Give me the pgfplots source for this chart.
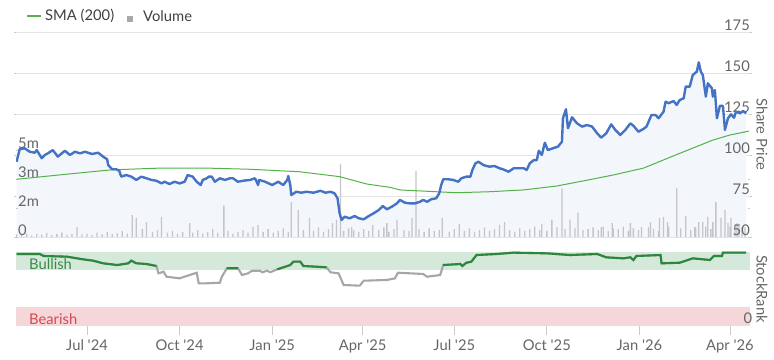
\documentclass[border=0pt]{standalone}
\usepackage{pgfplots}
\usepackage{pgfplotstable}
\pgfplotsset{compat=1.18}
\usepackage{fontspec}
\setmainfont{Lato}
\definecolor{priceblue}{RGB}{68,114,196}
\definecolor{smagreen}{RGB}{84,178,74}
\definecolor{rankgreen}{RGB}{42,136,60}
\definecolor{rankgrey}{RGB}{166,166,166}
\definecolor{bullband}{RGB}{213,233,218}
\definecolor{bearband}{RGB}{245,215,218}
\definecolor{bulltext}{RGB}{58,138,74}
\definecolor{beartext}{RGB}{214,72,80}
\definecolor{volc}{RGB}{196,196,202}
\definecolor{fillc}{RGB}{243,246,251}
\definecolor{gridc}{RGB}{228,228,228}
\definecolor{labc}{RGB}{102,102,102}
\definecolor{tickc}{RGB}{200,200,206}
\newcommand{\lf}{\fontsize{14.8}{17}\selectfont}

\pgfplotstableread{
day price
-70 95.9
-67 103.5
-62 104.1
-57 102
-52 101.4
-50 103
-45 98
-42 100
-39 101
-34 103
-29 99
-22 102.6
-17 100
-12 102
-7 101
-2 102
5 100.6
11 101.4
16 99
20 97.4
21 93.9
25 91.3
29 91.3
32 90.4
34 86.8
39 87.8
44 86.8
49 84.8
54 86.8
59 85.8
64 84.8
69 84.3
74 82.7
77 83.7
82 82.3
87 83.7
92 82.7
97 83.7
100 87.8
105 86.8
109 83.7
113 81.7
115 84.8
119 85.8
121 86.8
124 86.8
127 83.7
132 85.8
137 84.8
142 85.8
145 85.8
150 83.7
155 84.3
162 84.8
167 85.8
170 81.7
171 84.8
177 83.7
184 81.7
190 83.7
195 81.7
199 84.8
200 87.2
202 81.7
203 75.6
208 77.6
213 77
218 77.6
225 77
232 78.2
237 77
242 77.6
246 76.6
249 73.6
251 64.5
253 60.4
256 62.4
261 61.4
266 62.8
270 61.4
275 60.8
280 62.8
285 64.5
290 66.5
294 68.9
298 66.9
303 68.5
308 70.5
311 72.6
316 70.9
321 70.5
326 70.5
331 71.5
334 72.6
338 71.5
342 73
347 73.6
350 76.6
352 81.7
354 85.2
359 85.2
364 84.8
369 83.7
372 85.8
377 86.8
381 86.8
383 90.9
386 94.9
389 95.9
394 93.9
397 93.3
400 92.9
405 93.3
410 91.9
415 90.9
419 89.8
424 91.9
429 91.9
434 91.9
437 90.9
440 94.9
444 96.9
447 96.9
449 102.6
452 100
455 107.5
458 103
463 104.1
468 105.1
472 108.1
473 122.4
476 127.9
478 116.3
482 123
487 119.3
492 117.3
497 118.3
502 117.3
507 113.2
511 110.6
516 113.2
521 118.7
525 115.3
530 112.2
535 115.3
540 119.3
543 117.9
548 114.2
553 115.9
556 117.3
561 124.4
565 124.4
568 122.4
573 126.4
575 132.5
578 131.6
583 132.9
586 130.5
589 133.5
593 134.6
595 141.7
599 141.7
602 148.8
606 150.8
608 156.5
610 150.8
612 148.8
615 135.6
617 143.7
621 140.7
622 135.6
624 139.6
626 122.4
629 130
632 130
634 115.3
637 122.4
640 124.8
643 122.7
645 126.4
649 125.4
652 126.8
655 125.4
}\pricetab

\pgfplotstableread{
day sma
-70 85.2
-25 88
23 90.9
72 92
120 92
162 91.3
211 89.8
251 86.8
278 82.3
301 80.3
311 78.7
334 78
367 77
400 77.6
434 78.7
467 81.1
500 85
523 87.8
553 92
589 101
622 109.1
639 112.2
658 114.6
}\smatab

\pgfplotstableread{
day vol
-70 0.15
-65 0.12
-60 0.20
-55 0.10
-50 0.18
-45 0.14
-40 0.22
-35 0.12
-30 0.16
-25 0.25
-20 0.12
-15 0.18
-10 0.57
-5 0.15
0 0.20
5 0.12
10 0.25
15 0.15
20 0.30
25 0.18
30 0.22
35 0.35
40 0.20
45 1.26
49 1.10
55 0.45
59 0.86
65 0.30
70 0.40
74 1.15
80 0.25
85 0.35
90 0.20
95 0.30
102 0.80
105 0.25
110 0.40
115 0.20
120 0.30
125 0.45
130 0.25
136 1.80
140 0.35
145 0.20
150 0.30
155 0.40
160 0.25
165 0.60
170 0.70
175 0.30
180 0.45
185 0.25
190 0.35
195 0.50
200 0.30
203 2.00
210 1.55
215 0.40
221 1.10
225 0.35
230 0.55
235 0.30
240 0.45
244 0.80
248 1.00
252 4.20
255 0.35
260 0.50
263 0.57
265 0.40
270 0.30
275 0.45
280 0.35
284 0.70
290 0.40
295 0.55
298 0.80
300 0.30
305 0.45
308 1.00
315 0.40
320 0.35
323 1.10
327 3.80
330 0.45
335 0.30
340 0.50
345 0.35
350 0.40
353 1.10
360 0.30
365 0.45
370 0.75
375 0.35
380 0.50
385 0.30
390 0.40
395 0.55
400 0.35
405 0.45
410 0.70
415 0.85
420 0.40
425 0.30
430 0.50
435 0.35
440 0.45
445 0.60
450 0.40
452 0.75
457 0.35
462 1.00
467 0.55
472 2.80
475 0.45
480 1.00
485 0.50
488 1.40
493 0.40
498 0.45
503 0.55
508 0.40
511 0.57
513 0.60
518 0.35
522 0.80
523 0.50
528 0.45
533 0.60
538 0.35
540 0.80
543 0.50
548 0.40
551 0.57
558 0.55
560 0.86
563 0.45
568 0.35
569 1.10
573 1.15
577 0.86
578 0.60
586 2.80
590 0.50
595 1.20
600 0.40
604 0.57
605 0.55
608 0.86
612 0.86
615 0.60
617 1.15
620 0.45
622 0.86
625 2.00
630 1.10
634 1.55
637 0.80
639 0.60
640 1.10
644 0.45
646 0.80
648 0.70
651 0.57
654 0.55
}\voltab

\pgfplotstableread{
day rank
-70 97.3
-47 97.3
-43 94.6
-20 93.7
-4 90.1
6 88.3
16 84.7
30 82.4
41 84.7
44 88.3
49 84.7
59 83.8
69 81.1
71 71.2
76 73.4
79 66.6
92 64.4
102 68.9
109 72
111 57.7
119 57.7
132 58.5
134 66.6
139 78
150 78
154 68.9
160 71.2
164 74.7
172 74.7
174 72.6
179 74.7
182 72.6
189 76.6
197 80.1
202 82.4
205 86.9
212 86.9
215 81.1
228 80.1
238 79.3
242 72.6
250 71.2
255 55.4
271 54.5
275 61.2
298 62.2
306 64.4
309 72
334 70.3
338 66.6
351 68.9
354 82.4
371 83.8
373 81.1
377 85.5
382 86.9
387 95.9
407 97.3
424 99.1
457 98.2
480 95.9
507 97.3
516 92.8
533 91.4
540 92.8
543 89.2
546 94.6
570 95.9
571 84.7
589 85.5
602 91.4
619 89.2
623 94.6
631 94.6
632 99.1
655 99.1
}\ranktab

\pgfplotsset{
  base/.style={
    scale only axis, anchor=south west,
    xmin=-70.6, xmax=658.9,
    axis line style={draw=none},
    xtick=\empty,
    /pgf/number format/assume math mode=true,
    ticklabel style={font=\lf, text=labc},
  },
}

\begin{document}
\begin{tikzpicture}
\useasboundingbox (0bp,0bp) rectangle (774bp,360bp);

% price panel: grid and fill
\begin{axis}[base, at={(16bp,123bp)}, width=734bp, height=205bp,
  ymin=50, ymax=175,
  ytick={50,75,100,125,150,175},
  yticklabels={},
  ymajorgrids, grid style={draw=gridc, line width=0.9bp},
  ytick style={draw=none},
]
\addplot[fill=fillc, draw=none] table[x=day,y=price] {\pricetab} \closedcycle;
\end{axis}

% volume
\begin{axis}[base, at={(16bp,123bp)}, width=734bp, height=205bp,
  ymin=0, ymax=11.78,
  ytick={0,1.6667,3.3333,5},
  yticklabels={0,2m,3m,5m},
  yticklabel pos=left,
  ytick style={draw=tickc, line width=0.8bp}, major tick length=2bp, tick align=inside,
  yticklabel style={anchor=south west, inner sep=1bp, xshift=1bp},
]
\addplot[ybar, bar width=1.3bp, bar shift=0pt, fill=volc, draw=none] table[x=day,y=vol] {\voltab};
\end{axis}

% lines and right labels
\begin{axis}[base, at={(16bp,123bp)}, width=734bp, height=205bp,
  ymin=50, ymax=175,
  ytick={50,75,100,125,150,175},
  yticklabels={50,75,100,125,150,175},
  yticklabel pos=right,
  ytick style={draw=tickc, line width=0.8bp}, major tick length=2bp, tick align=outside,
  yticklabel style={anchor=south east, inner sep=1bp, xshift=-1bp},
]
\addplot[smagreen, line width=1bp] table[x=day,y=sma] {\smatab};
\addplot[priceblue, line width=2.4bp, line join=round] table[x=day,y=price] {\pricetab};
\end{axis}

% StockRank panel
\begin{axis}[base, at={(16bp,34bp)}, width=734bp, height=74bp,
  ymin=0, ymax=100, axis on top,
  xtick={0,92,184,274,365,457,549,639},
  xticklabels={Jul \textquotesingle24,Oct \textquotesingle24,Jan \textquotesingle25,Apr \textquotesingle25,Jul \textquotesingle25,Oct \textquotesingle25,Jan \textquotesingle26,Apr \textquotesingle26},
  xtick pos=bottom,
  xtick style={draw=tickc, line width=0.8bp, /pgfplots/major tick length=9bp},
  xticklabel style={yshift=-6bp},
  tick align=outside,
  ytick={0}, yticklabels={0}, yticklabel pos=right,
  ytick style={draw=none},
  yticklabel style={anchor=south east, inner sep=1bp, xshift=-1bp, yshift=1bp},
  unbounded coords=jump,
]
\fill[bullband] (axis cs:-70.6,75) rectangle (axis cs:658.9,100);
\fill[bearband] (axis cs:-70.6,0) rectangle (axis cs:658.9,25);
\addplot[rankgrey, line width=2.1bp] table[x=day,y=rank] {\ranktab};
\addplot[rankgreen, line width=2.1bp, restrict y to domain=75:101] table[x=day,y=rank] {\ranktab};
\end{axis}

% texts
\node[anchor=west, text=bulltext, font=\lf, inner sep=0] at (29bp,96bp) {Bullish};
\node[anchor=west, text=beartext, font=\lf, inner sep=0] at (29bp,41bp) {Bearish};
\node[rotate=-90, text=labc, font=\lf, inner sep=0] at (762bp,225.5bp) {Share Price};
\node[rotate=-90, text=labc, font=\lf, inner sep=0] at (762bp,71bp) {StockRank};
% legend
\draw[smagreen, line width=1.2bp] (27bp,344bp) -- (41bp,344bp);
\node[anchor=west, inner sep=0, text=black!75, font=\lf] at (45bp,344bp) {SMA (200)};
\fill[volc!85!black] (127bp,338bp) rectangle (133bp,344bp);
\node[anchor=west, inner sep=0, text=black!75, font=\lf] at (143bp,344bp) {Volume};
\end{tikzpicture}
\end{document}
